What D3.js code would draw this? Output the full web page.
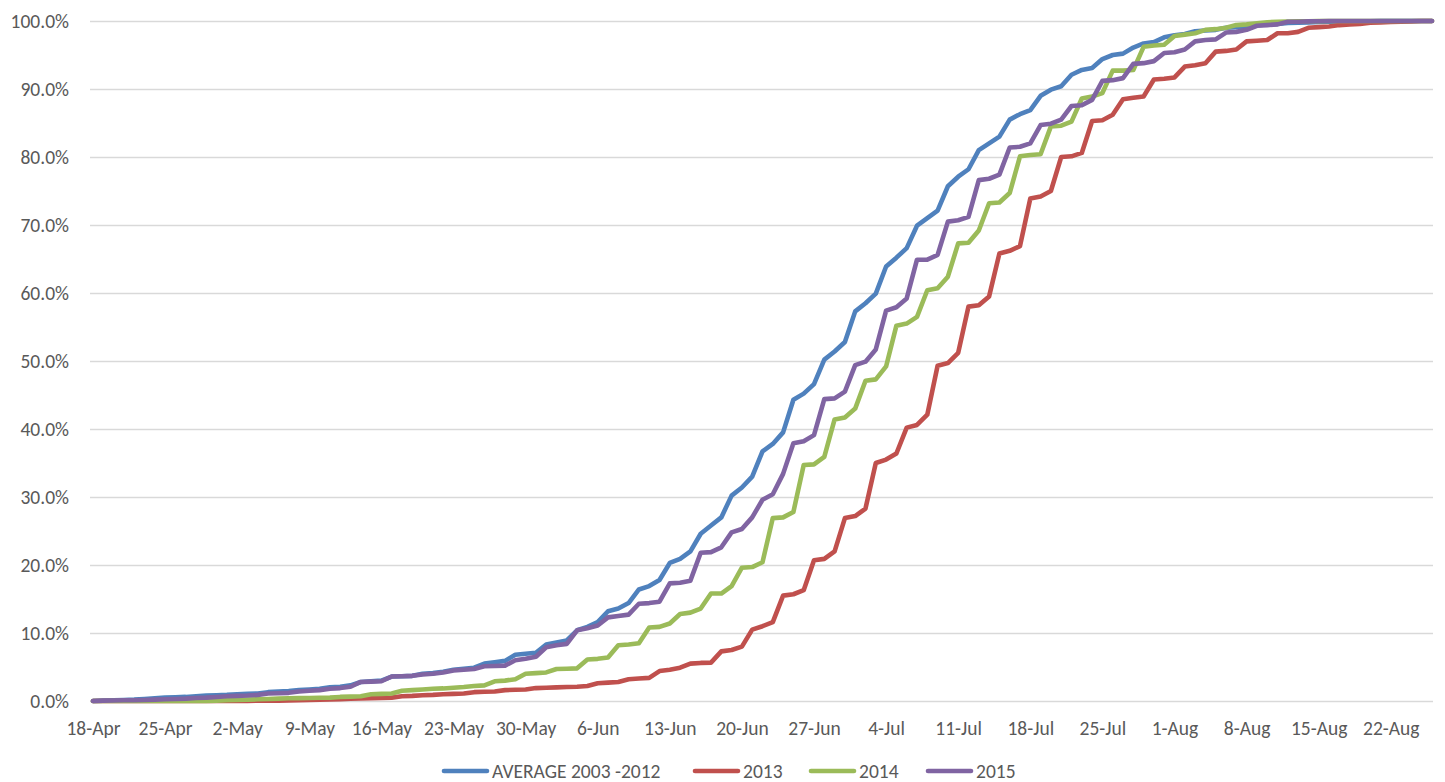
<!DOCTYPE html>
<html>
<head>
<meta charset="utf-8">
<script src="https://cdn.jsdelivr.net/npm/d3@7"></script>
<style>
  html, body { margin: 0; padding: 0; background: #fff; }
  svg { display: block; }
</style>
</head>
<body>
<div id="chart"></div>
<script>
// ---- Data (daily, 18-Apr .. 26-Aug, 131 points; cumulative %) ----
const tickLabels = ["18-Apr","25-Apr","2-May","9-May","16-May","23-May","30-May","6-Jun","13-Jun","20-Jun","27-Jun","4-Jul","11-Jul","18-Jul","25-Jul","1-Aug","8-Aug","15-Aug","22-Aug"];
const seriesNames = ["AVERAGE 2003 -2012", "2013", "2014", "2015"];
const seriesColors = ["#4F81BD", "#C0504D", "#9BBB59", "#8064A2"];

const avg2003_2012 = [
  0,0.05,0.1,0.15,0.2,0.3,0.4,0.5,0.55,0.6,0.7,0.8,0.85,0.9,1.0,1.05,1.1,1.3,1.4,1.45,1.6,1.7,1.8,
  2.0,2.1,2.3,2.8,2.9,3.0,3.6,3.65,3.7,4.0,4.1,4.3,4.6,4.75,4.9,5.5,5.7,5.9,6.8,6.95,7.1,8.3,8.6,8.9,10.4,10.9,11.6,
  13.2,13.6,14.4,16.4,16.9,17.8,20.3,20.9,22.0,24.6,25.8,27.0,30.2,31.4,33.0,36.7,37.8,39.5,
  44.3,45.2,46.6,50.2,51.4,52.8,57.3,58.5,59.9,63.9,65.2,66.6,69.9,71.0,72.1,75.7,77.1,78.2,
  81.0,82.0,83.0,85.5,86.3,86.9,89.0,89.9,90.4,92.1,92.8,93.1,94.4,95.0,95.2,96.1,96.7,96.9,97.6,97.9,
  98.1,98.5,98.6,98.7,99.0,99.1,99.2,99.4,99.5,99.55,99.7,99.75,99.8,99.85,99.9,99.92,99.94,99.96,99.97,99.98,99.99,100,100,100,100
];
const y2013 = [
  0,0,0,0,0,0,0,0,0,0,0,0,0,0,0,0.02,0.03,0.04,0.05,0.07,0.1,0.14,0.18,
  0.22,0.28,0.33,0.37,0.4,0.45,0.5,0.7,0.75,0.85,0.9,1.0,1.05,1.1,1.3,1.35,1.4,1.6,1.65,1.7,1.9,1.95,2.0,2.05,2.1,2.2,2.6,
  2.7,2.8,3.2,3.3,3.4,4.4,4.6,4.9,5.5,5.6,5.65,7.3,7.5,8.0,10.5,11.0,11.6,15.5,
  15.7,16.3,20.7,20.9,22.0,26.9,27.2,28.3,35.0,35.5,36.4,40.2,40.6,42.1,49.3,49.7,51.2,58.0,58.2,59.5,
  65.8,66.2,66.9,73.9,74.2,75.0,80.0,80.1,80.6,85.3,85.4,86.2,88.5,88.7,88.9,91.4,91.5,91.7,
  93.3,93.5,93.8,95.5,95.6,95.8,97.0,97.1,97.2,98.2,98.2,98.4,99.0,99.1,99.2,99.4,99.5,99.55,99.75,99.8,99.85,99.9,99.95,100,100
];
const y2014 = [
  0,0,0,0,0,0,0,0,0,0,0,0,0.05,0.1,0.15,0.2,0.25,0.3,0.35,0.4,0.42,0.45,0.48,
  0.5,0.6,0.65,0.7,1.0,1.05,1.1,1.5,1.6,1.7,1.8,1.85,1.95,2.05,2.2,2.3,2.9,3.0,3.2,4.0,4.1,4.2,4.7,4.75,4.8,6.1,6.2,
  6.4,8.2,8.3,8.5,10.8,10.9,11.4,12.8,13.0,13.6,15.8,15.8,16.9,19.6,19.7,20.4,26.9,27.0,
  27.8,34.7,34.8,35.9,41.4,41.7,43.0,47.1,47.3,49.2,55.2,55.5,56.5,60.4,60.7,62.4,67.3,67.4,69.2,73.2,
  73.3,74.7,80.1,80.3,80.4,84.5,84.6,85.2,88.6,88.9,89.4,92.7,92.7,92.8,96.2,96.4,96.5,97.8,
  98.0,98.2,98.7,98.8,99.0,99.4,99.5,99.65,99.8,99.9,99.92,99.95,99.97,99.98,100,100,100,100,100,100,100,100,100,100,100
];
const y2015 = [
  0,0.05,0.08,0.1,0.12,0.15,0.2,0.25,0.3,0.35,0.45,0.5,0.6,0.7,0.75,0.8,0.9,1.1,1.15,1.2,1.4,1.5,1.6,
  1.8,1.9,2.1,2.8,2.85,2.9,3.6,3.65,3.7,3.9,4.0,4.2,4.5,4.6,4.7,5.1,5.15,5.2,6.0,6.2,6.5,7.9,8.2,8.4,10.4,10.7,11.1,
  12.3,12.5,12.7,14.3,14.4,14.6,17.3,17.4,17.7,21.8,21.9,22.6,24.8,25.3,27.0,29.6,30.4,33.4,
  37.9,38.2,39.1,44.4,44.5,45.5,49.4,49.9,51.7,57.4,57.9,59.2,64.9,64.9,65.6,70.5,70.7,71.2,76.6,76.8,
  77.4,81.4,81.5,82.0,84.7,84.9,85.5,87.5,87.6,88.4,91.2,91.3,91.6,93.7,93.8,94.1,95.3,95.4,
  95.8,97.0,97.2,97.3,98.3,98.4,98.7,99.3,99.4,99.5,99.9,99.9,99.95,99.97,100,100,100,100,100,100,100,100,100,100,100
];
const yTicks = [0,10,20,30,40,50,60,70,80,90,100];

// ---- Chart ----
const W = 1445, H = 782;
const FONT = "Carlito, Calibri, 'Liberation Sans', Arial, sans-serif";
const TEXT = "#595959";
const seriesData = [avg2003_2012, y2013, y2014, y2015];
const nPts = avg2003_2012.length;

const x = d3.scaleLinear().domain([0, nPts - 1]).range([93, 1432]);
const y = d3.scaleLinear().domain([0, 100]).range([701, 21]);

const svg = d3.select("#chart").append("svg")
  .attr("width", W).attr("height", H)
  .style("background", "#fff");

// Y axis with gridlines
const yAxis = d3.axisLeft(y)
  .tickValues(yTicks)
  .tickSize(-(1433 - 90))
  .tickPadding(21)
  .tickFormat(d => d.toFixed(1) + "%");
const gy = svg.append("g").attr("transform", "translate(90,0)").call(yAxis);
gy.select(".domain").remove();
gy.selectAll(".tick line").attr("stroke", "#d9d9d9").attr("stroke-width", 1.3);
gy.selectAll(".tick text")
  .attr("fill", TEXT).style("font-family", FONT).style("font-size", "19.5px");

// X axis
const xTickVals = tickLabels.map((_, i) => i * 7);
const xAxis = d3.axisBottom(x)
  .tickValues(xTickVals)
  .tickSize(0)
  .tickPadding(20)
  .tickFormat((d, i) => tickLabels[i]);
const gx = svg.append("g").attr("transform", "translate(0,701)").call(xAxis);
gx.select(".domain").remove();
gx.selectAll(".tick text")
  .attr("fill", TEXT).style("font-family", FONT).style("font-size", "19.5px");

// Lines
const line = d3.line()
  .x((d, i) => x(i))
  .y(d => y(d));

svg.append("g").selectAll("path.series")
  .data(seriesData)
  .join("path")
  .attr("class", "series")
  .attr("fill", "none")
  .attr("stroke", (d, i) => seriesColors[i])
  .attr("stroke-width", 4.6)
  .attr("stroke-linejoin", "round")
  .attr("stroke-linecap", "round")
  .attr("d", d => line(d));

// Legend
const legendX = [444, 695, 811, 928];
const lg = svg.append("g");
seriesNames.forEach((name, i) => {
  const g = lg.append("g").attr("transform", `translate(${legendX[i]},771)`);
  g.append("line").attr("x1", 0).attr("x2", 43).attr("y1", 0).attr("y2", 0)
    .attr("stroke", seriesColors[i]).attr("stroke-width", 4.6).attr("stroke-linecap", "round");
  g.append("text").attr("x", 48).attr("y", 0).attr("dy", "0.35em")
    .attr("fill", TEXT).style("font-family", FONT).style("font-size", "19.5px")
    .text(name);
});
</script>
</body>
</html>
